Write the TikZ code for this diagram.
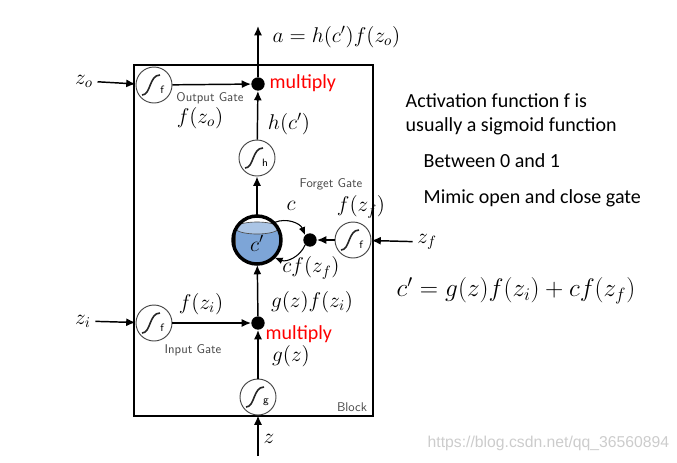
\RequirePackage{fix-cm}
\documentclass[tikz,border=0pt]{standalone}
\usepackage{fontspec}
\newfontfamily\calfnt{Carlito}
\newfontfamily\wmfnt{Liberation Sans}
\usetikzlibrary{arrows.meta}
\definecolor{cellblue}{RGB}{125,165,215}
\definecolor{gatec}{RGB}{70,70,70}
\begin{document}
\begin{tikzpicture}[x=0.75pt,y=-0.75pt,
  arr/.style={line width=1.1pt,-{Latex[length=7pt,width=6pt]}},
  gate/.style={circle,draw=gatec,line width=0.7pt,minimum size=27pt,inner sep=0pt,fill=white},
  dot/.style={circle,fill=black,minimum size=10pt,inner sep=0pt},
  sig/.style={line width=1.2pt,black!85},
  glbl/.style={font=\sffamily\fontsize{9.5}{10}\selectfont,text=gatec},
  mlbl/.style={font=\fontsize{16}{18}\selectfont},
  redl/.style={font=\calfnt\fontsize{15}{16}\selectfont,text=red},
  rtxt/.style={font=\calfnt\fontsize{15}{17}\selectfont,anchor=west},
]
\useasboundingbox (0,0) rectangle (677,462);
% block
\draw[line width=1.1pt] (134,65) rectangle (373,416);
% nodes
\node[gate] (og) at (154,85) {};
\node[gate] (ig) at (154,323) {};
\node[gate] (hg) at (257,158) {};
\node[gate] (gg) at (258,397) {};
\node[gate] (fg) at (353,240) {};
\node[dot] (mo) at (258,84) {};
\node[dot] (md) at (258,323) {};
\node[dot] (fd) at (310,240) {};
% cell
\node[circle,minimum size=37pt,inner sep=0pt] (cell) at (257,240) {};
\begin{scope}
  \clip (257,240) circle (24);
  \fill[cellblue] (235,228) -- (235,262) -- (279,262) -- (279,228) -- cycle;
  \fill[cellblue!65!white] (257,228) ellipse (22 and 6);
  \draw[black!70,line width=0.5pt] (257,228) ellipse (22 and 6);
  \draw[black!70,line width=0.5pt] (235,228) -- (235,262);
  \draw[black!70,line width=0.5pt] (279,228) -- (279,262);
\end{scope}
\draw[line width=2.6pt] (257,240) circle (24);
\node[font=\fontsize{16}{17}\selectfont] at (257,243) {$c'$};
% sigmoid glyphs
\foreach \n/\l in {og/f,ig/f,hg/h,gg/g,fg/f}{
  \draw[sig,shift={(\n.center)}] (-12,10) .. controls (-3,10) and (-5,-10) .. (6,-10);
  \node[font=\sffamily\fontsize{8}{9}\selectfont] at ([shift={(8,5)}]\n.center) {\l};
}
% text nodes
\node[mlbl] (zo) at (84,81) {$z_o$};
\node[mlbl] (zi) at (83,321) {$z_i$};
\node[mlbl] (zf) at (427,242) {$z_f$};
\node[mlbl] (zz) at (269,439) {$z$};
\coordinate (top) at (258,26);
\coordinate (zb) at (258,456);
\node[mlbl,anchor=west] (aeq) at (268,37) {$a = h(c')f(z_o)$};
\node[redl,anchor=west] (mul1) at (265,83) {multiply};
\node[redl,anchor=west] (mul2) at (261,334) {multiply};
\node[glbl] (ogl) at (210,98) {Output Gate};
\node[glbl] (igl) at (193,350) {Input Gate};
\node[glbl] (fgl) at (331,184) {Forget Gate};
\node[glbl] (blk) at (352,407) {Block};
\node[mlbl] at (200,118) {$f(z_o)$};
\node[mlbl] at (289,124) {$h(c')$};
\node[mlbl] at (291,206) {$c$};
\node[mlbl] at (361,207) {$f\bigl(z_f\bigr)$};
\node[mlbl] at (311,268) {$cf\bigl(z_f\bigr)$};
\node[mlbl] at (312,302) {$g(z)f(z_i)$};
\node[mlbl] at (201,304) {$f(z_i)$};
\node[mlbl] at (291,356) {$g(z)$};
% connectors
\draw[arr] (zo) -- (og);
\draw[arr] (og) -- (mo);
\draw[arr] (hg) -- (mo);
\draw[arr] (mo) -- (top);
\draw[arr] (cell) -- (hg);
\draw[arr] (zf) -- (fg);
\draw[arr] (fg) -- (fd);
\draw[line width=0.8pt,-{Latex[length=6pt,width=5pt]}] (cell.45) to[bend left=45] (fd.135);
\draw[line width=0.8pt,-{Latex[length=6pt,width=5pt]}] (fd.225) to[bend left=45] (cell.-45);
\draw[arr] (zi) -- (ig);
\draw[arr] (ig) -- (md);
\draw[arr] (gg) -- (md);
\draw[arr] (md) -- (cell);
\draw[arr] (zb) -- (gg);
% right text
\node[rtxt] at (401,101) {Activation function f is};
\node[rtxt] at (401,126) {usually a sigmoid function};
\node[rtxt] at (419,161) {Between 0 and 1};
\node[rtxt] at (419,198) {Mimic open and close gate};
\node[anchor=west,font=\fontsize{19}{21}\selectfont] at (392,291) {$c' = g(z)f(z_i) + cf\bigl(z_f\bigr)$};
\node[anchor=west,font=\wmfnt\fontsize{11.8}{13}\selectfont,text=black!20] at (423,443) {https://blog.csdn.net/qq\_36560894};
\end{tikzpicture}
\end{document}
